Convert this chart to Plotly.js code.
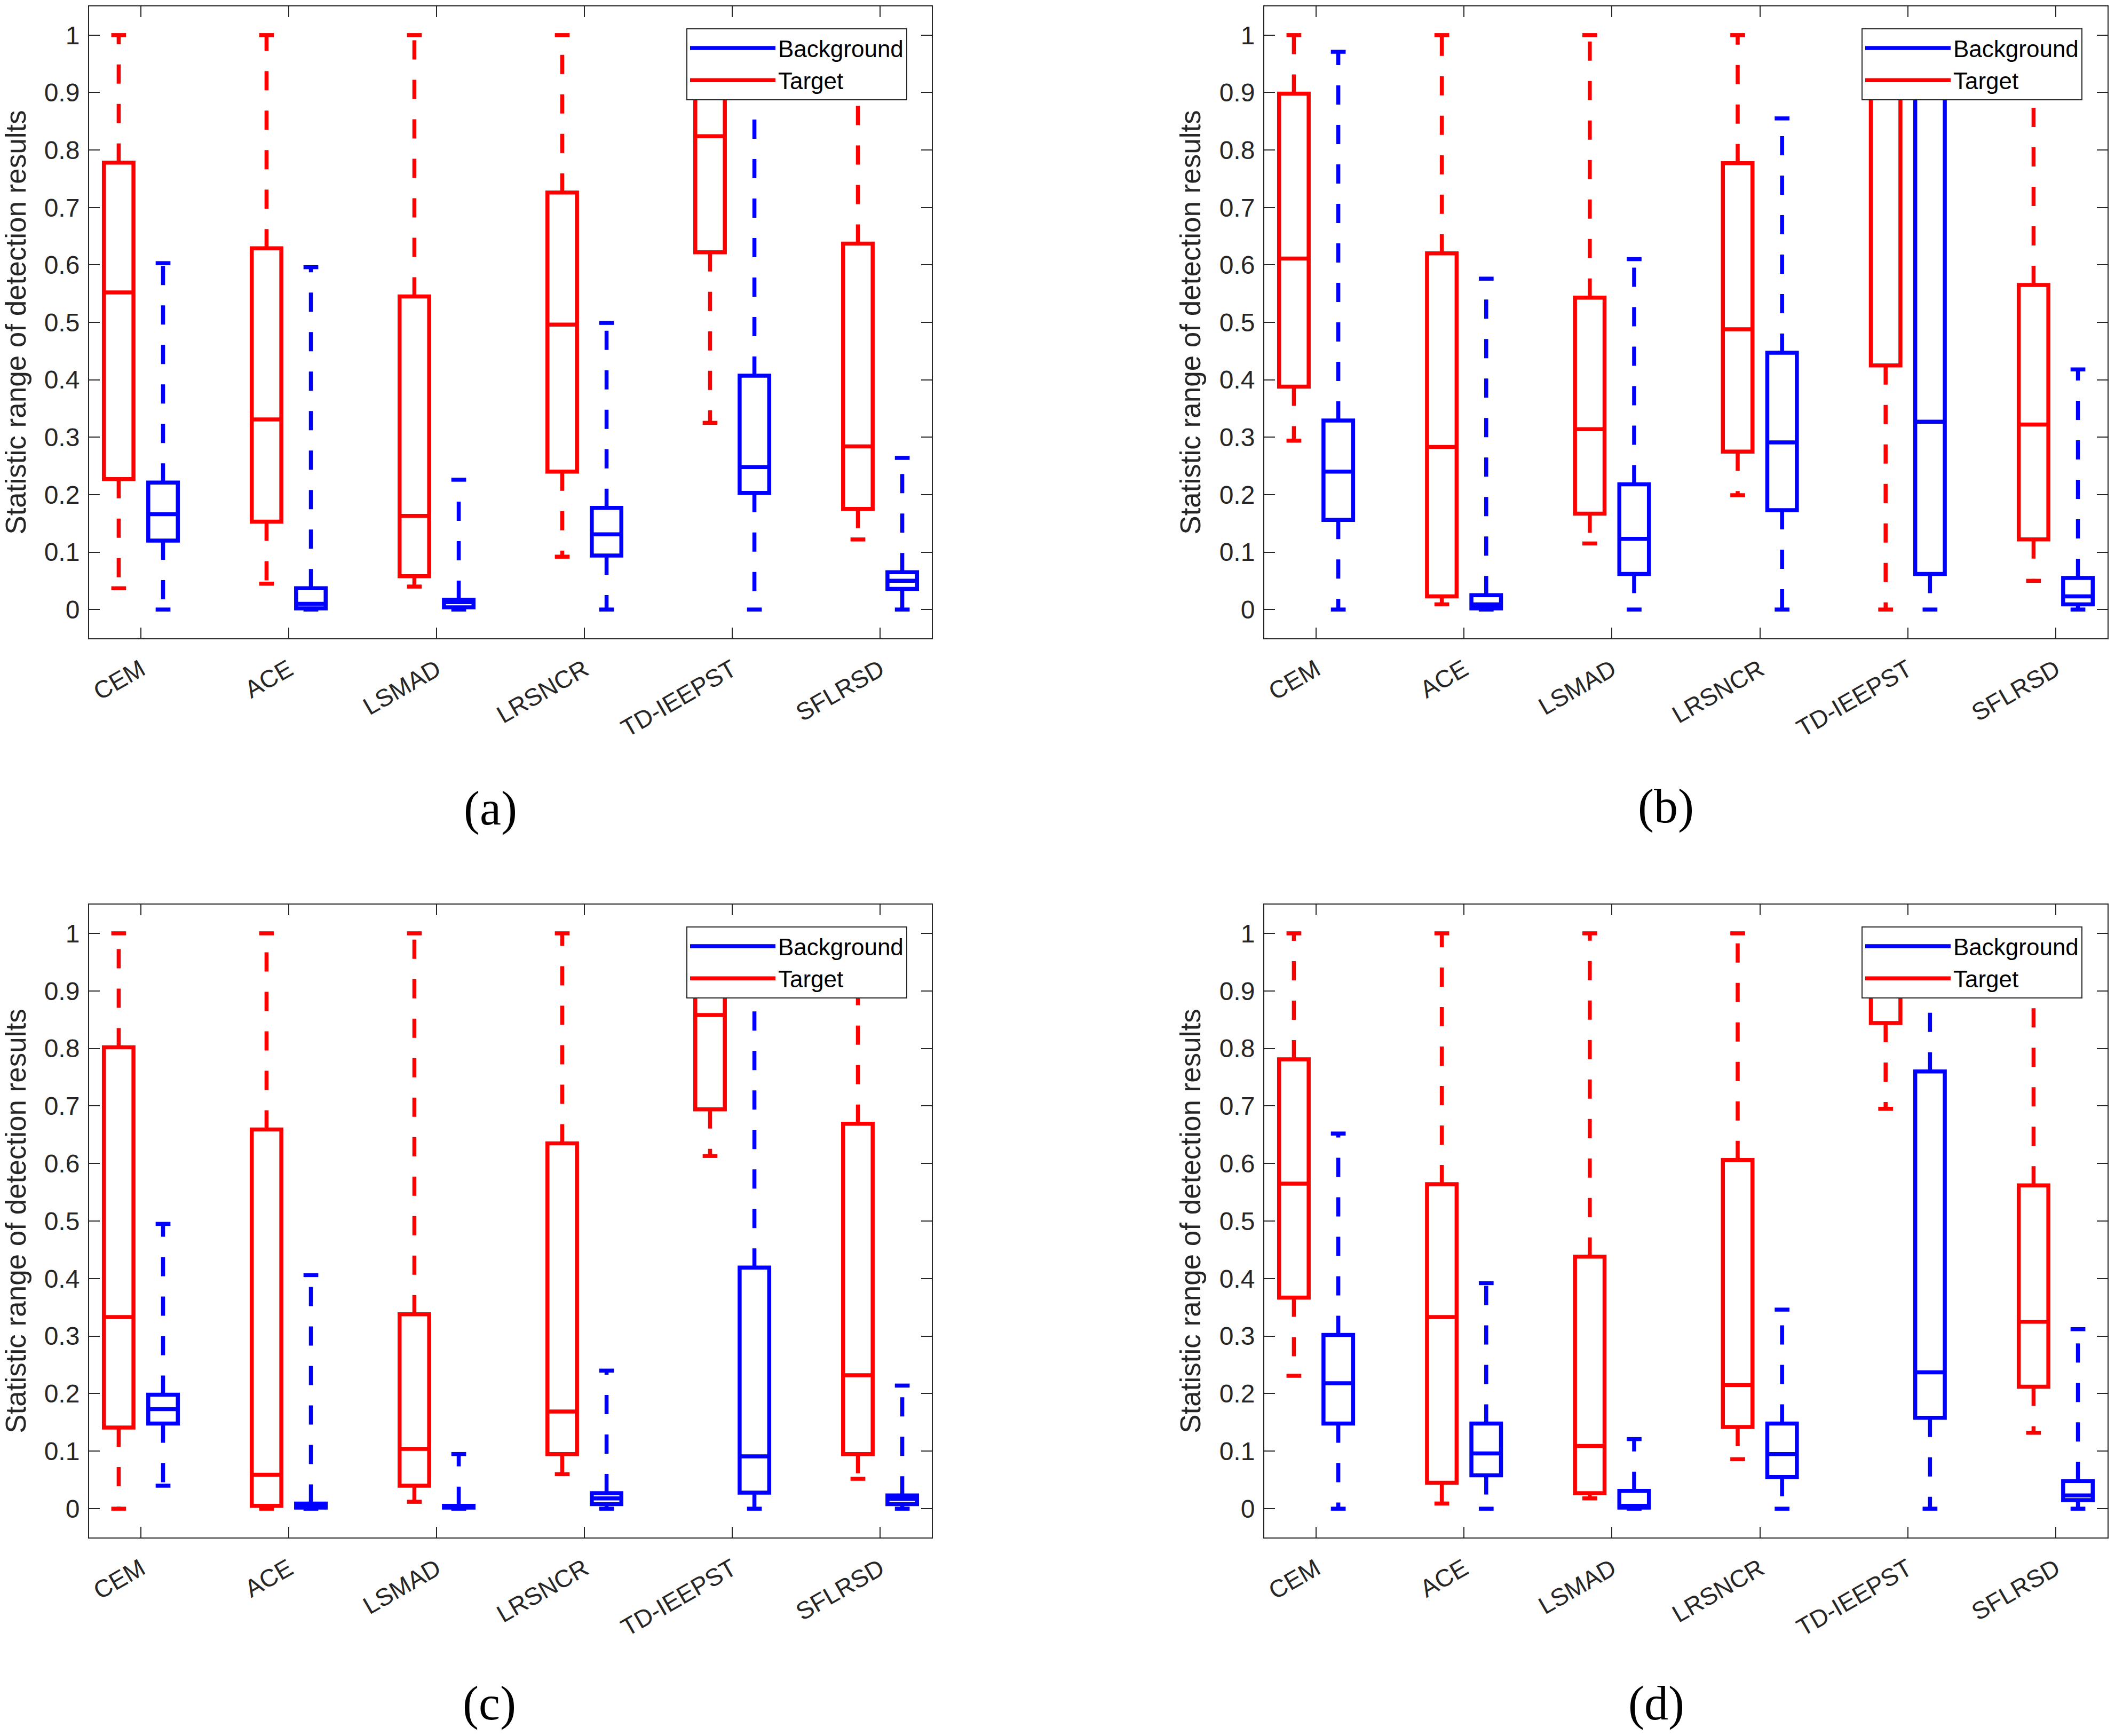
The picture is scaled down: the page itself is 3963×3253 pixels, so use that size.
<!DOCTYPE html>
<html><head><meta charset="utf-8">
<script src="https://cdn.plot.ly/plotly-3.0.1.min.js"></script>
<style>html,body{margin:0;padding:0;background:#fff}</style>
</head><body><div id="chart" style="width:3963px;height:3253px"></div>
<script>
// ---------- data ----------
const categories = ['CEM', 'ACE', 'LSMAD', 'LRSNCR', 'TD-IEEPST', 'SFLRSD'];
const seriesNames = ['Background', 'Target'];
const yTickVals = [0, 0.1, 0.2, 0.3, 0.4, 0.5, 0.6, 0.7, 0.8, 0.9, 1];
const yTickText = ['0', '0.1', '0.2', '0.3', '0.4', '0.5', '0.6', '0.7', '0.8', '0.9', '1'];
const panelLabels = ['(a)', '(b)', '(c)', '(d)'];
const yTitle = 'Statistic range of detection results';

// panel (a)
const a_target_lo  = [0.037, 0.045, 0.040, 0.092, 0.325, 0.122];
const a_target_q1  = [0.227, 0.153, 0.058, 0.240, 0.622, 0.175];
const a_target_med = [0.552, 0.331, 0.163, 0.496, 0.824, 0.284];
const a_target_q3  = [0.778, 0.629, 0.545, 0.726, 0.960, 0.637];
const a_target_hi  = [1.000, 1.000, 1.000, 1.000, 1.000, 1.000];
const a_bg_lo  = [0.000, 0.000, 0.000, 0.000, 0.000, 0.000];
const a_bg_q1  = [0.120, 0.002, 0.004, 0.094, 0.203, 0.036];
const a_bg_med = [0.166, 0.010, 0.013, 0.131, 0.248, 0.050];
const a_bg_q3  = [0.221, 0.037, 0.017, 0.177, 0.407, 0.065];
const a_bg_hi  = [0.603, 0.596, 0.226, 0.499, 1.000, 0.264];

// panel (b)
const b_target_lo  = [0.294, 0.009, 0.115, 0.199, 0.000, 0.050];
const b_target_q1  = [0.388, 0.023, 0.167, 0.275, 0.425, 0.122];
const b_target_med = [0.611, 0.283, 0.314, 0.488, 0.930, 0.322];
const b_target_q3  = [0.898, 0.620, 0.543, 0.777, 0.980, 0.565];
const b_target_hi  = [1.000, 1.000, 1.000, 1.000, 1.000, 1.000];
const b_bg_lo  = [0.000, 0.000, 0.000, 0.000, 0.000, 0.000];
const b_bg_q1  = [0.156, 0.002, 0.062, 0.173, 0.062, 0.009];
const b_bg_med = [0.240, 0.009, 0.123, 0.291, 0.327, 0.023];
const b_bg_q3  = [0.329, 0.025, 0.218, 0.447, 0.950, 0.055];
const b_bg_hi  = [0.971, 0.576, 0.610, 0.855, 1.000, 0.418];

// panel (c)
const c_target_lo  = [0.000, 0.000, 0.012, 0.060, 0.613, 0.052];
const c_target_q1  = [0.141, 0.005, 0.040, 0.095, 0.694, 0.095];
const c_target_med = [0.333, 0.059, 0.104, 0.169, 0.858, 0.232];
const c_target_q3  = [0.802, 0.659, 0.338, 0.635, 0.950, 0.669];
const c_target_hi  = [1.000, 1.000, 1.000, 1.000, 1.000, 1.000];
const c_bg_lo  = [0.040, 0.000, 0.000, 0.000, 0.000, 0.000];
const c_bg_q1  = [0.148, 0.002, 0.002, 0.008, 0.028, 0.008];
const c_bg_med = [0.173, 0.005, 0.004, 0.018, 0.091, 0.017];
const c_bg_q3  = [0.198, 0.009, 0.005, 0.027, 0.419, 0.023];
const c_bg_hi  = [0.495, 0.406, 0.095, 0.240, 1.000, 0.214];

// panel (d)
const d_target_lo  = [0.231, 0.009, 0.018, 0.086, 0.695, 0.132];
const d_target_q1  = [0.367, 0.045, 0.027, 0.142, 0.844, 0.212];
const d_target_med = [0.565, 0.333, 0.109, 0.215, 0.930, 0.325];
const d_target_q3  = [0.781, 0.564, 0.438, 0.606, 0.980, 0.562];
const d_target_hi  = [1.000, 1.000, 1.000, 1.000, 1.000, 1.000];
const d_bg_lo  = [0.000, 0.000, 0.000, 0.000, 0.000, 0.000];
const d_bg_q1  = [0.148, 0.058, 0.002, 0.055, 0.158, 0.015];
const d_bg_med = [0.218, 0.096, 0.005, 0.095, 0.237, 0.023];
const d_bg_q3  = [0.302, 0.148, 0.031, 0.148, 0.760, 0.048];
const d_bg_hi  = [0.652, 0.392, 0.121, 0.346, 1.000, 0.312];

// ---------- assembly ----------
const panels = [
  {t: [a_target_lo, a_target_q1, a_target_med, a_target_q3, a_target_hi], b: [a_bg_lo, a_bg_q1, a_bg_med, a_bg_q3, a_bg_hi]},
  {t: [b_target_lo, b_target_q1, b_target_med, b_target_q3, b_target_hi], b: [b_bg_lo, b_bg_q1, b_bg_med, b_bg_q3, b_bg_hi]},
  {t: [c_target_lo, c_target_q1, c_target_med, c_target_q3, c_target_hi], b: [c_bg_lo, c_bg_q1, c_bg_med, c_bg_q3, c_bg_hi]},
  {t: [d_target_lo, d_target_q1, d_target_med, d_target_q3, d_target_hi], b: [d_bg_lo, d_bg_q1, d_bg_med, d_bg_q3, d_bg_hi]}
];

const W = 3963, H = 3253;
const RED = '#ff0000', BLUE = '#0000ff', AX = '#262626';
const LW = 7.5, OFF = 0.15, BOXW = 0.2, CAPW = 0.1;
const catPos = categories.map((c, i) => i + 1);

const traces = [];
panels.forEach((p, k) => {
  const xa = k === 0 ? 'x' : 'x' + (k + 1);
  const ya = k === 0 ? 'y' : 'y' + (k + 1);
  const lg = k === 0 ? 'legend' : 'legend' + (k + 1);
  const groups = [
    {stats: p.t, color: RED, dx: -OFF, name: seriesNames[1], rank: 2},
    {stats: p.b, color: BLUE, dx: OFF, name: seriesNames[0], rank: 1}
  ];
  groups.forEach(g => {
    const [lo, q1, med, q3, hi] = g.stats;
    const xs = catPos.map(v => v + g.dx);
    traces.push({
      type: 'box', x: xs, q1: q1, median: med, q3: q3,
      lowerfence: q1, upperfence: q3, width: BOXW,
      line: {color: g.color, width: LW}, fillcolor: 'rgba(0,0,0,0)',
      whiskerwidth: 0, boxpoints: false, showlegend: false,
      hoverinfo: 'skip', xaxis: xa, yaxis: ya
    });
    const wx = [], wy = [], cx = [], cy = [];
    xs.forEach((x, i) => {
      wx.push(x, x, null, x, x, null);
      wy.push(q3[i], hi[i], null, q1[i], lo[i], null);
      cx.push(x - CAPW / 2, x + CAPW / 2, null, x - CAPW / 2, x + CAPW / 2, null);
      cy.push(hi[i], hi[i], null, lo[i], lo[i], null);
    });
    traces.push({
      type: 'scatter', mode: 'lines', x: wx, y: wy,
      line: {color: g.color, width: LW, dash: '36px,38px'},
      showlegend: false, hoverinfo: 'skip', xaxis: xa, yaxis: ya
    });
    traces.push({
      type: 'scatter', mode: 'lines', x: cx, y: cy, name: g.name,
      line: {color: g.color, width: LW}, legend: lg, legendrank: g.rank,
      showlegend: true, hoverinfo: 'skip', xaxis: xa, yaxis: ya
    });
  });
});

const xDom = [[167 / W, 1746 / W], [2369 / W, 3949 / W]];
const yDom = [[1 - 1196 / H, 1 - 12 / H], [1 - 2881 / H, 1 - 1695 / H]];
const font = 'Liberation Sans, Arial, sans-serif';

const layout = {
  width: W, height: H, margin: {l: 0, r: 0, t: 0, b: 0},
  paper_bgcolor: '#fff', plot_bgcolor: '#fff', showlegend: true,
  annotations: [], boxmode: 'overlay'
};
const legPos = [[1286 / W, 1 - 53 / H], [3488 / W, 1 - 53 / H], [1286 / W, 1 - 1736 / H], [3488 / W, 1 - 1736 / H]];
const labPos = [[919 / W, 1 - 1515 / H], [3121 / W, 1 - 1511 / H], [917 / W, 1 - 3192 / H], [3103 / W, 1 - 3192 / H]];

for (let k = 0; k < 4; k++) {
  const col = k % 2, row = Math.floor(k / 2);
  const sx = k === 0 ? '' : String(k + 1);
  const common = {
    ticks: 'inside', ticklen: 20, tickwidth: 2, tickcolor: AX,
    showline: true, linewidth: 2, linecolor: AX, mirror: 'ticks',
    showgrid: false, zeroline: false
  };
  layout['xaxis' + sx] = Object.assign({}, common, {
    domain: xDom[col], range: [0.65, 6.35], anchor: 'y' + sx,
    tickmode: 'array', tickvals: catPos, ticktext: categories, tickangle: -30,
    ticklabelstandoff: 12,
    tickfont: {family: font, size: 46, color: AX}
  });
  layout['yaxis' + sx] = Object.assign({}, common, {
    domain: yDom[row], range: [-0.05, 1.05], anchor: 'x' + sx,
    tickmode: 'array', tickvals: yTickVals, ticktext: yTickText,
    ticklabelstandoff: 6,
    tickfont: {family: font, size: 48, color: AX},
    title: {text: yTitle, font: {family: font, size: 53, color: AX}, standoff: 18}
  });
  layout['legend' + sx] = {
    x: legPos[k][0], y: legPos[k][1], xanchor: 'left', yanchor: 'top',
    xref: 'paper', yref: 'paper',
    bgcolor: '#fff', bordercolor: AX, borderwidth: 2,
    font: {family: font, size: 44, color: '#000'},
    itemwidth: 160, tracegroupgap: 0, traceorder: 'normal'
  };
  layout.annotations.push({
    text: panelLabels[k], xref: 'paper', yref: 'paper',
    x: labPos[k][0], y: labPos[k][1], xanchor: 'center', yanchor: 'middle',
    showarrow: false, font: {family: 'Liberation Serif, Times New Roman, serif', size: 90, color: '#000'}
  });
}

Plotly.newPlot('chart', traces, layout, {staticPlot: true, displayModeBar: false});
</script></body></html>
